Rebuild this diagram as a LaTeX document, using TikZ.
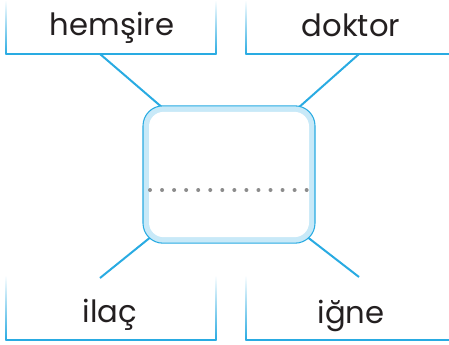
\documentclass[tikz,border=0pt]{standalone}
\usepackage{fontspec}
\setmainfont{Poppins}
\definecolor{cizgi}{HTML}{29ABE2}
\definecolor{bant}{HTML}{C8E9F8}
\definecolor{nokta}{HTML}{8C8C8C}
\definecolor{yazi}{HTML}{231F20}

\begin{document}
\begin{tikzpicture}[x=0.75pt,y=-0.75pt]
	\tikzset{kelime/.style={font=\fontsize{23}{27}\selectfont, text=yazi, anchor=base, inner sep=0pt}}
	\tikzset{baglanti/.style={draw=cizgi, line width=1.5pt}}
	\tikzset{kenar/.style={draw=cizgi, line width=1pt}}
	\tikzset{solgun/.style={top color=white, bottom color=cizgi}}
	\useasboundingbox (0,0) rectangle (449,344);

	% kelime kutulari
	\draw[kenar] (6,54) -- (216,54);
	\shade[solgun] (5.3,0) rectangle (6.7,54);
	\shade[solgun] (215.3,0) rectangle (216.7,54);
	\draw[kenar] (246,54) -- (449,54);
	\shade[solgun] (245.3,0) rectangle (246.7,54);
	\draw[kenar] (6,340) -- (216,340);
	\shade[solgun] (5.3,275) rectangle (6.7,340);
	\shade[solgun] (215.3,275) rectangle (216.7,340);
	\draw[kenar] (246,340) -- (449,340);
	\shade[solgun] (245.3,275) rectangle (246.7,340);

	\node[kelime] (hemsire) at (112,35) {hemşire};
	\node[kelime] (doktor) at (351,36) {doktor};
	\node[kelime] (ilac) at (110,322) {ilaç};
	\node[kelime] (igne) at (351,323) {iğne};

	% baglanti uclari
	\coordinate (hemsire-uc) at (100,54);
	\coordinate (doktor-uc) at (359,54);
	\coordinate (ilac-uc) at (100,278);
	\coordinate (igne-uc) at (359,277);
	\coordinate (kutu-su) at (164,109);
	\coordinate (kutu-sa) at (297,109);
	\coordinate (kutu-ku) at (152,236);
	\coordinate (kutu-ka) at (306,236);

	\draw[baglanti] (hemsire-uc) -- (kutu-su);
	\draw[baglanti] (doktor-uc) -- (kutu-sa);
	\draw[baglanti] (ilac-uc) -- (kutu-ku);
	\draw[baglanti] (igne-uc) -- (kutu-ka);

	% orta kutu
	\node[draw=cizgi, line width=0.8pt, fill=bant, rounded corners=15pt,
		minimum width=129pt, minimum height=103pt, inner sep=0pt] (kutu) at (229,174.5) {};
	\node[fill=white, rounded corners=11pt,
		minimum width=120pt, minimum height=94pt, inner sep=0pt] (ic) at (kutu) {};
	\foreach \i in {0,...,13}
		\fill[nokta] (150+12.05*\i,190) circle (2);
\end{tikzpicture}
\end{document}
